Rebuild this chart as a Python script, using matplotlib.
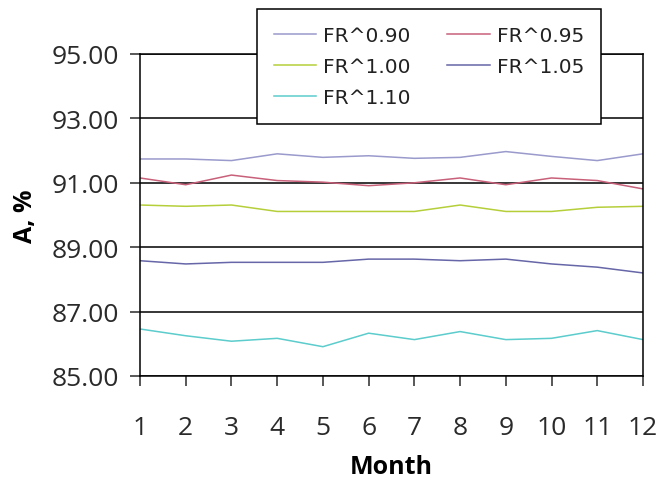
import matplotlib.pyplot as plt
import numpy as np

plt.rcParams['font.family'] = ['Open Sans', 'DejaVu Sans']

# data
months = [1, 2, 3, 4, 5, 6, 7, 8, 9, 10, 11, 12]
fr_090 = [91.74, 91.74, 91.69, 91.90, 91.79, 91.84, 91.76, 91.79, 91.97, 91.82, 91.69, 91.90]
fr_095 = [91.15, 90.94, 91.24, 91.07, 91.02, 90.91, 91.00, 91.15, 90.94, 91.15, 91.07, 90.81]
fr_100 = [90.31, 90.27, 90.31, 90.11, 90.11, 90.11, 90.11, 90.31, 90.11, 90.11, 90.24, 90.27]
fr_105 = [88.58, 88.48, 88.53, 88.53, 88.53, 88.63, 88.63, 88.58, 88.63, 88.48, 88.38, 88.20]
fr_110 = [86.46, 86.25, 86.08, 86.17, 85.91, 86.33, 86.13, 86.38, 86.13, 86.17, 86.41, 86.13]

labels = ['FR^0.90', 'FR^0.95', 'FR^1.00', 'FR^1.05', 'FR^1.10']
colors = ['#9a9acc', '#c8607a', '#b5cf3a', '#6666a8', '#5ccccc']

fig = plt.figure(figsize=(6.59, 4.81), dpi=100)
ax = fig.add_axes([140/659, 1-377/481, 503/659, 322/481])

lines = []
for ys, lab, c in zip([fr_090, fr_095, fr_100, fr_105, fr_110], labels, colors):
    ln, = ax.plot(months, ys, color=c, lw=1.1, label=lab)
    lines.append(ln)

ax.set_xlim(1, 12)
ax.set_ylim(85, 95)
ax.set_xticks(months)
ax.set_yticks(np.arange(85, 96, 2))
ax.yaxis.set_major_formatter(plt.FormatStrFormatter('%.2f'))
ax.grid(axis='y', color='black', lw=1.1)
ax.set_axisbelow(True)
ax.tick_params(labelsize=19, direction='out', length=7, width=1.1, colors='#2a2a2a')
ax.tick_params(axis='y', pad=8)
ax.tick_params(axis='x', pad=21)
for s in ax.spines.values():
    s.set_color('black')
    s.set_linewidth(1.1)

ax.set_xlabel('Month', fontsize=18, fontweight='bold', labelpad=10)
ax.set_ylabel('A, %', fontsize=18, fontweight='bold', labelpad=10)

# legend fills row by row: reorder for matplotlib's column-first fill
order = [0, 2, 4, 1, 3]
leg = fig.legend([lines[i] for i in order], [labels[i] for i in order],
                 loc='upper left', bbox_to_anchor=(257/659, 1-10/481), ncol=2,
                 prop={'family': 'DejaVu Sans', 'size': 14.5},
                 frameon=True, fancybox=False, edgecolor='black', framealpha=1,
                 handlelength=2.1, handletextpad=0.35, columnspacing=1.8,
                 labelspacing=0.6, borderpad=0.85, borderaxespad=0)
leg.get_frame().set_linewidth(1.1)
for t in leg.get_texts():
    t.set_color('#222222')

fig.savefig('out.png', dpi=100)
